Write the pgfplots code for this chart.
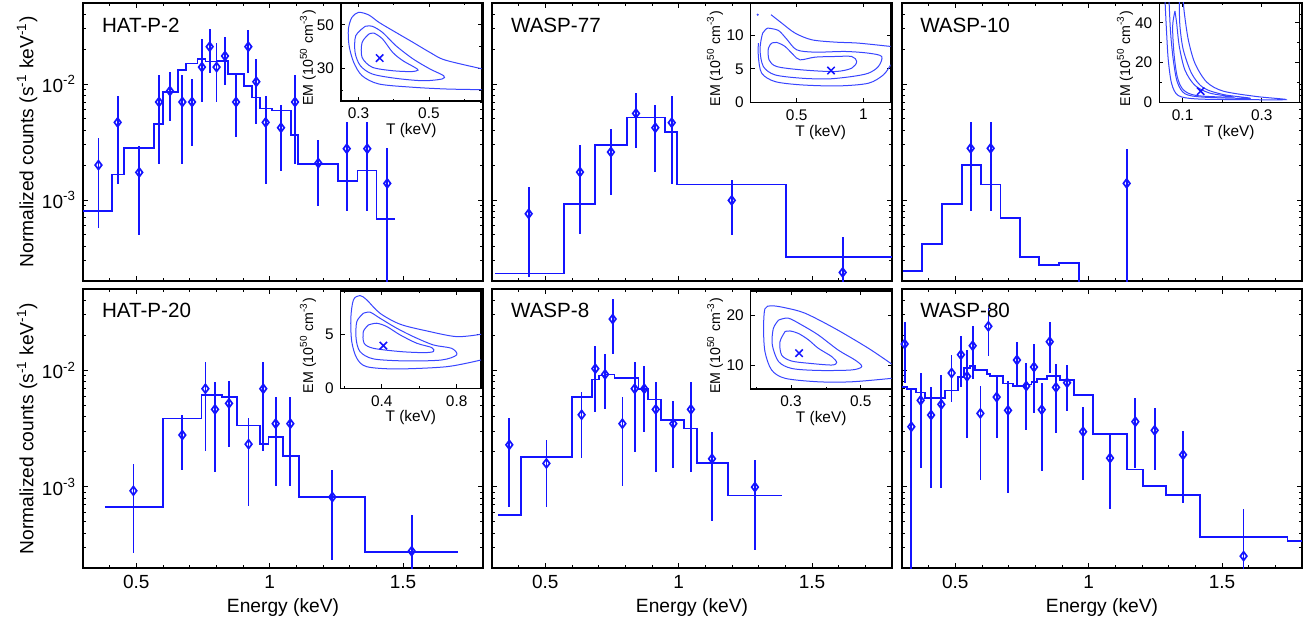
\documentclass[border=0pt]{standalone}
\usepackage{pgfplots}
\pgfplotsset{compat=1.18}
\usepackage{fontspec}
\setmainfont{Liberation Sans}
\definecolor{dblue}{rgb}{0.08,0.08,1}
\definecolor{cblue}{rgb}{0.22,0.27,1}
\begin{document}
\begin{tikzpicture}
\useasboundingbox (0,0) rectangle (657pt,314pt);
% ---------------- HAT-P-2
\begin{axis}[at={(41.5pt,173.5pt)}, anchor=south west,
    scale only axis, width=200pt, height=139pt,
    xmin=0.3, xmax=1.8, ymode=log, ymin=2e-4, ymax=5e-2,
    xtick={0.5,1,1.5}, xticklabels={},
    minor xtick={0.4,0.6,0.7,0.8,0.9,1.1,1.2,1.3,1.4,1.6,1.7},
    ytick={1e-3,1e-2}, yticklabels={10\textsuperscript{-3},10\textsuperscript{-2}},
    minor ytick={3e-4,4e-4,5e-4,6e-4,7e-4,8e-4,9e-4,2e-3,3e-3,4e-3,5e-3,6e-3,7e-3,8e-3,9e-3,2e-2,3e-2,4e-2},
    tick align=inside, major tick length=2.6pt, minor tick length=1.5pt,
    tick style={black, line width=0.45pt}, axis line style={line width=0.6pt},
    yticklabel style={font=\fontsize{9.5}{10}\selectfont},
    ylabel={Normalized counts (s\textsuperscript{-1} keV\textsuperscript{-1})},
    ylabel style={font=\fontsize{9.6}{10}\selectfont, at={(axis description cs:-0.14,0.5)}, anchor=center}]
\addplot[only marks, mark=diamond, mark size=2.2pt, color=dblue, line width=0.85pt,
  error bars/y dir=both, error bars/y explicit, error bars/error mark=none,
  error bars/error bar style={color=dblue, line width=0.85pt}]
  table[x=E,y=y,y error plus expr=\thisrow{hi}-\thisrow{y},y error minus expr=\thisrow{y}-\thisrow{lo}] {
E y hi lo
0.358 2.00e-3 3.40e-3 5.77e-4
0.430 4.67e-3 7.93e-3 1.363e-3
0.511 1.73e-3 2.94e-3 4.98e-4
0.585 7.00e-3 1.197e-2 2.04e-3
0.626 8.71e-3 1.28e-2 4.83e-3
0.6725 7.00e-3 1.19e-2 2.04e-3
0.709 7.00e-3 1.105e-2 2.94e-3
0.746 1.40e-2 2.44e-2 7.05e-3
0.775 2.10e-2 2.96e-2 1.25e-2
0.801 1.40e-2 2.24e-2 7.05e-3
0.8325 1.745e-2 2.53e-2 9.80e-3
0.874 7.00e-3 1.19e-2 3.52e-3
0.920 2.10e-2 2.92e-2 1.25e-2
0.950 1.047e-2 1.64e-2 4.49e-3
0.985 4.67e-3 7.90e-3 1.36e-3
1.0425 4.20e-3 6.59e-3 1.776e-3
1.095 7.00e-3 1.19e-2 2.04e-3
1.1825 2.08e-3 3.29e-3 8.86e-4
1.289 2.77e-3 4.73e-3 8.02e-4
1.366 2.77e-3 4.73e-3 8.02e-4
1.441 1.39e-3 2.79e-3 1.0e-4
};
\addplot[const plot, color=dblue, line width=0.85pt, no marks] coordinates {(0.3,8.07e-4) (0.4075,1.66e-3) (0.455,2.81e-3) (0.566,4.55e-3) (0.599,8.53e-3) (0.655,1.32e-2) (0.686,1.508e-2) (0.729,1.655e-2) (0.759,1.56e-2) (0.801,1.58e-2) (0.845,1.22e-2) (0.905,9.6e-3) (0.9325,7.67e-3) (0.964,6.17e-3) (1.0075,5.93e-3) (1.08,3.63e-3) (1.1075,2.04e-3) (1.2575,1.466e-3) (1.329,1.80e-3) (1.401,6.89e-4) (1.47,6.89e-4)};
\node[anchor=west, font=\fontsize{10.3}{11}\selectfont] at (rel axis cs:0.03,0.92) {HAT-P-2};
\end{axis}
% ---------------- WASP-77
\begin{axis}[at={(246pt,173.5pt)}, anchor=south west,
    scale only axis, width=200pt, height=139pt,
    xmin=0.3, xmax=1.8, ymode=log, ymin=2e-4, ymax=5e-2,
    xtick={0.5,1,1.5}, xticklabels={},
    minor xtick={0.4,0.6,0.7,0.8,0.9,1.1,1.2,1.3,1.4,1.6,1.7},
    ytick={1e-3,1e-2}, yticklabels={},
    minor ytick={3e-4,4e-4,5e-4,6e-4,7e-4,8e-4,9e-4,2e-3,3e-3,4e-3,5e-3,6e-3,7e-3,8e-3,9e-3,2e-2,3e-2,4e-2},
    tick align=inside, major tick length=2.6pt, minor tick length=1.5pt,
    tick style={black, line width=0.45pt}, axis line style={line width=0.6pt}]
\addplot[only marks, mark=diamond, mark size=2.2pt, color=dblue, line width=0.85pt,
  error bars/y dir=both, error bars/y explicit, error bars/error mark=none,
  error bars/error bar style={color=dblue, line width=0.85pt}]
  table[x=E,y=y,y error plus expr=\thisrow{hi}-\thisrow{y},y error minus expr=\thisrow{y}-\thisrow{lo}] {
E y hi lo
0.4375 7.60e-4 1.30e-3 2.18e-4
0.630 1.74e-3 2.96e-3 5.05e-4
0.746 2.59e-3 4.09e-3 1.10e-3
0.840 5.58e-3 8.31e-3 2.79e-3
0.9125 4.20e-3 6.59e-3 1.75e-3
0.974 4.64e-3 7.88e-3 1.36e-3
1.199 9.92e-4 1.486e-3 4.95e-4
1.615 2.37e-4 4.75e-4 1.0e-4
};
\addplot[const plot, color=dblue, line width=0.85pt, no marks] coordinates {(0.311,2.325e-4) (0.57,9.28e-4) (0.686,3.00e-3) (0.806,5.16e-3) (0.95,3.85e-3) (0.9925,1.363e-3) (1.4025,3.22e-4) (1.8,3.22e-4)};
\node[anchor=west, font=\fontsize{10.3}{11}\selectfont] at (rel axis cs:0.03,0.92) {WASP-77};
\end{axis}
% ---------------- WASP-10
\begin{axis}[at={(451pt,173.5pt)}, anchor=south west,
    scale only axis, width=200pt, height=139pt,
    xmin=0.3, xmax=1.8, ymode=log, ymin=2e-4, ymax=5e-2,
    xtick={0.5,1,1.5}, xticklabels={},
    minor xtick={0.4,0.6,0.7,0.8,0.9,1.1,1.2,1.3,1.4,1.6,1.7},
    ytick={1e-3,1e-2}, yticklabels={},
    minor ytick={3e-4,4e-4,5e-4,6e-4,7e-4,8e-4,9e-4,2e-3,3e-3,4e-3,5e-3,6e-3,7e-3,8e-3,9e-3,2e-2,3e-2,4e-2},
    tick align=inside, major tick length=2.6pt, minor tick length=1.5pt,
    tick style={black, line width=0.45pt}, axis line style={line width=0.6pt}]
\addplot[only marks, mark=diamond, mark size=2.2pt, color=dblue, line width=0.85pt,
  error bars/y dir=both, error bars/y explicit, error bars/error mark=none,
  error bars/error bar style={color=dblue, line width=0.85pt}]
  table[x=E,y=y,y error plus expr=\thisrow{hi}-\thisrow{y},y error minus expr=\thisrow{y}-\thisrow{lo}] {
E y hi lo
0.5575 2.79e-3 4.73e-3 8.07e-4
0.6325 2.79e-3 4.73e-3 8.07e-4
1.1425 1.39e-3 2.75e-3 1.0e-4
};
\addplot[const plot, color=dblue, line width=0.85pt, no marks] coordinates {(0.3025,2.44e-4) (0.376,4.19e-4) (0.45,9.22e-4) (0.524,2.01e-3) (0.595,1.36e-3) (0.669,6.98e-4) (0.7425,3.20e-4) (0.815,2.74e-4) (0.89,2.84e-4) (0.9625,1e-4)};
\node[anchor=west, font=\fontsize{10.3}{11}\selectfont] at (rel axis cs:0.028,0.92) {WASP-10};
\end{axis}
% ---------------- HAT-P-20
\begin{axis}[at={(41.5pt,30pt)}, anchor=south west,
    scale only axis, width=200pt, height=139.5pt,
    xmin=0.3, xmax=1.8, ymode=log, ymin=2e-4, ymax=5e-2,
    xtick={0.5,1,1.5}, xticklabels={0.5,1,1.5},
    minor xtick={0.4,0.6,0.7,0.8,0.9,1.1,1.2,1.3,1.4,1.6,1.7},
    ytick={1e-3,1e-2}, yticklabels={10\textsuperscript{-3},10\textsuperscript{-2}},
    minor ytick={3e-4,4e-4,5e-4,6e-4,7e-4,8e-4,9e-4,2e-3,3e-3,4e-3,5e-3,6e-3,7e-3,8e-3,9e-3,2e-2,3e-2,4e-2},
    tick align=inside, major tick length=2.6pt, minor tick length=1.5pt,
    tick style={black, line width=0.45pt}, axis line style={line width=0.6pt},
    ticklabel style={font=\fontsize{9.5}{10}\selectfont},
    ylabel={Normalized counts (s\textsuperscript{-1} keV\textsuperscript{-1})},
    ylabel style={font=\fontsize{9.6}{10}\selectfont, at={(axis description cs:-0.14,0.5)}, anchor=center},
    xlabel={Energy (keV)},
    xlabel style={font=\fontsize{9.6}{10}\selectfont, at={(axis description cs:0.5,-0.143)}, anchor=center}]
\addplot[only marks, mark=diamond, mark size=2.2pt, color=dblue, line width=0.85pt,
  error bars/y dir=both, error bars/y explicit, error bars/error mark=none,
  error bars/error bar style={color=dblue, line width=0.85pt}]
  table[x=E,y=y,y error plus expr=\thisrow{hi}-\thisrow{y},y error minus expr=\thisrow{y}-\thisrow{lo}] {
E y hi lo
0.489 9.22e-4 1.564e-3 2.67e-4
0.6725 2.78e-3 4.13e-3 1.39e-3
0.759 6.95e-3 1.178e-2 2.04e-3
0.795 4.62e-3 7.88e-3 1.344e-3
0.8475 5.20e-3 8.15e-3 2.19e-3
0.921 2.32e-3 3.91e-3 6.81e-4
0.976 6.95e-3 1.178e-2 2.04e-3
1.0225 3.48e-3 5.89e-3 1.019e-3
1.0775 3.48e-3 5.89e-3 1.019e-3
1.235 8.14e-4 1.39e-3 2.35e-4
1.5325 2.79e-4 5.70e-4 1.0e-4
};
\addplot[const plot, color=dblue, line width=0.85pt, no marks] coordinates {(0.3825,6.72e-4) (0.599,3.86e-3) (0.744,6.13e-3) (0.82,5.93e-3) (0.8775,3.36e-3) (0.964,2.32e-3) (0.996,2.69e-3) (1.051,1.83e-3) (1.109,8.19e-4) (1.3575,2.76e-4) (1.7075,2.76e-4)};
\node[anchor=west, font=\fontsize{10.3}{11}\selectfont] at (rel axis cs:0.03,0.925) {HAT-P-20};
\end{axis}
% ---------------- WASP-8
\begin{axis}[at={(246pt,30pt)}, anchor=south west,
    scale only axis, width=200pt, height=139.5pt,
    xmin=0.3, xmax=1.8, ymode=log, ymin=2e-4, ymax=5e-2,
    xtick={0.5,1,1.5}, xticklabels={0.5,1,1.5},
    minor xtick={0.4,0.6,0.7,0.8,0.9,1.1,1.2,1.3,1.4,1.6,1.7},
    ytick={1e-3,1e-2}, yticklabels={},
    minor ytick={3e-4,4e-4,5e-4,6e-4,7e-4,8e-4,9e-4,2e-3,3e-3,4e-3,5e-3,6e-3,7e-3,8e-3,9e-3,2e-2,3e-2,4e-2},
    tick align=inside, major tick length=2.6pt, minor tick length=1.5pt,
    tick style={black, line width=0.45pt}, axis line style={line width=0.6pt},
    ticklabel style={font=\fontsize{9.5}{10}\selectfont},
    xlabel={Energy (keV)},
    xlabel style={font=\fontsize{9.6}{10}\selectfont, at={(axis description cs:0.5,-0.143)}, anchor=center}]
\addplot[only marks, mark=diamond, mark size=2.2pt, color=dblue, line width=0.85pt,
  error bars/y dir=both, error bars/y explicit, error bars/error mark=none,
  error bars/error bar style={color=dblue, line width=0.85pt}]
  table[x=E,y=y,y error plus expr=\thisrow{hi}-\thisrow{y},y error minus expr=\thisrow{y}-\thisrow{lo}] {
E y hi lo
0.365 2.29e-3 3.91e-3 6.64e-4
0.504 1.585e-3 2.52e-3 6.72e-4
0.636 4.15e-3 6.55e-3 1.75e-3
0.6875 1.033e-2 1.628e-2 4.41e-3
0.724 9.23e-3 1.38e-2 4.62e-3
0.7525 2.76e-2 4.10e-2 1.38e-2
0.789 3.48e-3 5.89e-3 1.01e-3
0.835 6.95e-3 1.17e-2 2.00e-3
0.871 6.95e-3 1.081e-2 2.93e-3
0.914 4.62e-3 7.88e-3 1.344e-3
0.980 3.48e-3 5.45e-3 1.455e-3
1.046 4.62e-3 7.88e-3 1.344e-3
1.125 1.738e-3 2.97e-3 5.09e-4
1.286 9.92e-4 1.69e-3 2.85e-4
};
\addplot[const plot, color=dblue, line width=0.85pt, no marks] coordinates {(0.324,5.70e-4) (0.409,1.81e-3) (0.6,5.89e-3) (0.674,8.36e-3) (0.7025,9.05e-3) (0.724,9.23e-3) (0.759,8.59e-3) (0.849,6.95e-3) (0.886,5.63e-3) (0.934,3.74e-3) (1.021,3.17e-3) (1.069,1.606e-3) (1.184,8.41e-4) (1.386,8.41e-4)};
\node[anchor=west, font=\fontsize{10.3}{11}\selectfont] at (rel axis cs:0.03,0.925) {WASP-8};
\end{axis}
% ---------------- WASP-80
\begin{axis}[at={(451pt,30pt)}, anchor=south west,
    scale only axis, width=200pt, height=139.5pt,
    xmin=0.3, xmax=1.8, ymode=log, ymin=2e-4, ymax=5e-2,
    xtick={0.5,1,1.5}, xticklabels={0.5,1,1.5},
    minor xtick={0.4,0.6,0.7,0.8,0.9,1.1,1.2,1.3,1.4,1.6,1.7},
    ytick={1e-3,1e-2}, yticklabels={},
    minor ytick={3e-4,4e-4,5e-4,6e-4,7e-4,8e-4,9e-4,2e-3,3e-3,4e-3,5e-3,6e-3,7e-3,8e-3,9e-3,2e-2,3e-2,4e-2},
    tick align=inside, major tick length=2.6pt, minor tick length=1.5pt,
    tick style={black, line width=0.45pt}, axis line style={line width=0.6pt},
    ticklabel style={font=\fontsize{9.5}{10}\selectfont},
    xlabel={Energy (keV)},
    xlabel style={font=\fontsize{9.6}{10}\selectfont, at={(axis description cs:0.5,-0.143)}, anchor=center}]
\addplot[only marks, mark=diamond, mark size=2.2pt, color=dblue, line width=0.85pt,
  error bars/y dir=both, error bars/y explicit, error bars/error mark=none,
  error bars/error bar style={color=dblue, line width=0.85pt}]
  table[x=E,y=y,y error plus expr=\thisrow{hi}-\thisrow{y},y error minus expr=\thisrow{y}-\thisrow{lo}] {
E y hi lo
0.31 1.683e-2 2.585e-2 7.73e-3
0.335 3.275e-3 6.77e-3 1.0e-4
0.37 5.52e-3 9.42e-3 1.455e-3
0.409 4.13e-3 7.23e-3 9.66e-4
0.4475 5.10e-3 9.11e-3 9.79e-4
0.486 9.48e-3 1.353e-2 5.37e-3
0.521 1.362e-2 1.985e-2 7.23e-3
0.544 8.87e-3 1.495e-2 2.63e-3
0.565 1.628e-2 2.42e-2 8.42e-3
0.594 4.265e-3 7.38e-3 1.14e-3
0.624 2.39e-2 3.41e-2 1.336e-2
0.655 5.89e-3 9.11e-3 2.63e-3
0.6975 4.53e-3 8.15e-3 8.75e-4
0.731 1.226e-2 1.739e-2 7.47e-3
0.766 7.33e-3 1.148e-2 3.09e-3
0.795 1.067e-2 1.694e-2 4.29e-3
0.824 4.59e-3 7.78e-3 1.371e-3
0.854 1.762e-2 2.585e-2 9.42e-3
0.8775 7.14e-3 1.133e-2 2.87e-3
0.919 7.83e-3 1.11e-2 4.50e-3
0.979 2.97e-3 4.80e-3 1.132e-3
1.08 1.762e-3 2.87e-3 6.42e-4
1.175 3.62e-3 5.74e-3 1.455e-3
1.2475 3.05e-3 4.71e-3 1.398e-3
1.354 1.88e-3 3.01e-3 7.27e-4
1.581 2.53e-4 6.42e-4 1.0e-4
};
\addplot[const plot, color=dblue, line width=0.85pt, no marks] coordinates {(0.3,7.23e-3) (0.3175,6.95e-3) (0.3525,6.46e-3) (0.386,5.82e-3) (0.461,6.72e-3) (0.511,8.76e-3) (0.5325,1.053e-2) (0.555,1.096e-2) (0.575,1.006e-2) (0.6175,9.35e-3) (0.63,8.99e-3) (0.68,7.73e-3) (0.715,7.38e-3) (0.761,7.57e-3) (0.786,7.98e-3) (0.805,8.42e-3) (0.8425,8.93e-3) (0.8925,8.31e-3) (0.945,6.13e-3) (1.015,2.85e-3) (1.145,1.407e-3) (1.2025,1.019e-3) (1.29,8.52e-4) (1.4175,3.69e-4) (1.746,3.40e-4) (1.8,3.40e-4)};
\node[anchor=west, font=\fontsize{10.3}{11}\selectfont] at (rel axis cs:0.028,0.925) {WASP-80};
\end{axis}
% ================= insets
\begin{axis}[at={(170.5pt,263.5pt)}, anchor=south west, scale only axis, width=70.35pt, height=49pt,
  axis background/.style={fill=white}, tick align=inside, major tick length=2pt, minor tick length=1.2pt,
  tick style={black, line width=0.4pt}, axis line style={line width=0.55pt},
  ticklabel style={font=\fontsize{7.7}{8}\selectfont},
  xlabel={T (keV)}, ylabel={EM (10\textsuperscript{50} cm\textsuperscript{-3})},
  xlabel style={font=\fontsize{7.7}{8}\selectfont, at={(axis description cs:0.5,-0.3)}, anchor=center},
  ylabel style={font=\fontsize{7.1}{8}\selectfont, at={(axis description cs:-0.235,0.44)}, anchor=center},
  xmin=0.25, xmax=0.65, ymin=15, ymax=60, xtick={0.3,0.5}, xticklabels={0.3,0.5}, minor xtick={0.4,0.6},
  ytick={30,50}, yticklabels={30,50}, minor ytick={20,40}]
\addplot[color=cblue, line width=0.5pt, smooth, no marks] coordinates {(0.653,29.7) (0.546,33.8) (0.503,37.3) (0.455,41.9) (0.406,46.5) (0.358,51.1) (0.329,54.5) (0.3,55.7) (0.281,53.4) (0.271,48.0) (0.273,40.4) (0.286,32.8) (0.310,26.6) (0.358,22.8) (0.455,21.3) (0.551,20.5) (0.653,20.2)};
\addplot[color=cblue, line width=0.5pt, smooth, no marks] coordinates {(0.319,49.3) (0.292,45.0) (0.290,37.3) (0.305,31.2) (0.339,27.4) (0.406,25.4) (0.484,24.3) (0.537,25.1) (0.542,26.6) (0.503,29.7) (0.455,34.3) (0.406,40.4) (0.368,46.5) (0.339,49.3) (0.319,49.3)};
\addplot[color=cblue, line width=0.5pt, smooth, no marks] coordinates {(0.329,45.7) (0.310,41.9) (0.310,35.0) (0.339,30.5) (0.397,28.9) (0.450,28.5) (0.469,29.2) (0.459,30.5) (0.426,33.5) (0.397,37.3) (0.368,43.5) (0.343,46.2) (0.329,45.7)};
\addplot[only marks, mark=x, mark size=2.6pt, color=dblue, line width=0.75pt] coordinates {(0.36,34.7)};
\end{axis}
\begin{axis}[at={(375.35pt,262.85pt)}, anchor=south west, scale only axis, width=70pt, height=49.65pt,
  axis background/.style={fill=white}, tick align=inside, major tick length=2pt, minor tick length=1.2pt,
  tick style={black, line width=0.4pt}, axis line style={line width=0.55pt},
  ticklabel style={font=\fontsize{7.7}{8}\selectfont},
  xlabel={T (keV)}, ylabel={EM (10\textsuperscript{50} cm\textsuperscript{-3})},
  xlabel style={font=\fontsize{7.7}{8}\selectfont, at={(axis description cs:0.5,-0.3)}, anchor=center},
  ylabel style={font=\fontsize{7.1}{8}\selectfont, at={(axis description cs:-0.255,0.44)}, anchor=center},
  xmin=0.155, xmax=1.205, ymin=0, ymax=14.85, xtick={0.5,1}, xticklabels={0.5,1},
  ytick={0,5,10}, yticklabels={0,5,10}]
\addplot[color=cblue, line width=0.5pt, smooth, no marks] coordinates {(0.2125,8.85) (0.2125,6.85) (0.2375,4.35) (0.3375,3.1) (0.5375,2.6) (0.8125,2.45) (1.0375,2.85) (1.15,4.1) (1.205,5.6)};
\addplot[color=cblue, line width=0.5pt, smooth, no marks] coordinates {(0.3075,13.1) (0.3875,11.85) (0.4875,10.35) (0.6125,9.35) (0.7875,9.0) (0.9625,8.85) (1.205,8.35)};
\addplot[color=cblue, line width=0.5pt, smooth, no marks] coordinates {(0.2825,11.1) (0.3625,10.75) (0.425,9.45) (0.5,7.85) (0.6375,7.5) (0.8625,7.6) (1.0375,7.35) (1.1375,6.85) (1.1125,5.35) (1.0375,4.35) (0.9125,3.85) (0.7375,3.5) (0.5375,3.6) (0.3375,4.1) (0.25,5.35) (0.225,7.85) (0.245,10.35) (0.2825,11.1)};
\addplot[color=cblue, line width=0.5pt, smooth, no marks] coordinates {(0.3125,8.85) (0.2875,8.1) (0.2925,6.35) (0.35,5.35) (0.5375,4.85) (0.7875,4.6) (0.9125,5.1) (0.95,6.1) (0.9125,6.85) (0.7875,6.85) (0.6375,6.75) (0.525,6.35) (0.475,7.1) (0.4125,8.35) (0.35,8.95) (0.3125,8.85)};
\addplot[only marks, mark=*, mark size=0.3pt, color=cblue] coordinates {(0.2075,13.1)};
\addplot[only marks, mark=x, mark size=2.6pt, color=dblue, line width=0.75pt] coordinates {(0.7575,4.75)};
\end{axis}
\begin{axis}[at={(579.65pt,262.85pt)}, anchor=south west, scale only axis, width=70pt, height=49.65pt,
  axis background/.style={fill=white}, tick align=inside, major tick length=2pt, minor tick length=1.2pt,
  tick style={black, line width=0.4pt}, axis line style={line width=0.55pt},
  ticklabel style={font=\fontsize{7.7}{8}\selectfont},
  xlabel={T (keV)}, ylabel={EM (10\textsuperscript{50} cm\textsuperscript{-3})},
  xlabel style={font=\fontsize{7.7}{8}\selectfont, at={(axis description cs:0.5,-0.3)}, anchor=center},
  ylabel style={font=\fontsize{7.1}{8}\selectfont, at={(axis description cs:-0.245,0.44)}, anchor=center},
  xmin=0.041, xmax=0.395, ymin=0, ymax=50, xtick={0.1,0.3}, xticklabels={0.1,0.3}, minor xtick={0.2},
  ytick={0,20,40}, yticklabels={0,20,40}, minor ytick={10,30}]
\addplot[color=cblue, line width=0.5pt, smooth, no marks] coordinates {(0.0561,50.5) (0.0561,48.5) (0.0595,34.9) (0.0637,21.3) (0.0722,9.4) (0.089,3.4) (0.1354,1.7) (0.245,1.36) (0.3616,1.36) (0.2873,2.9) (0.203,5.6) (0.1608,10.2) (0.1312,19.6) (0.1143,31.5) (0.1042,45.1) (0.1017,51)};
\addplot[color=cblue, line width=0.5pt, smooth, no marks] coordinates {(0.0662,51) (0.0662,48.5) (0.0696,34.9) (0.0764,21.3) (0.0865,10.2) (0.1059,4.3) (0.1523,2.6) (0.2705,2.0) (0.203,3.9) (0.1523,7.3) (0.1228,14.5) (0.1017,26.4) (0.0932,38.3) (0.0916,49.4) (0.0916,51)};
\addplot[color=cblue, line width=0.5pt, smooth, no marks] coordinates {(0.0806,46.0) (0.0747,38.3) (0.0781,24.7) (0.0865,12.8) (0.1017,6.3) (0.1354,3.4) (0.2283,2.6) (0.1692,4.6) (0.1312,8.5) (0.1059,16.2) (0.0916,28.1) (0.0848,40.0) (0.0806,46.0)};
\addplot[only marks, mark=x, mark size=2.6pt, color=dblue, line width=0.75pt] coordinates {(0.1456,5.6)};
\end{axis}
\begin{axis}[at={(170.35pt,119.85pt)}, anchor=south west, scale only axis, width=70.15pt, height=48.65pt,
  axis background/.style={fill=white}, tick align=inside, major tick length=2pt, minor tick length=1.2pt,
  tick style={black, line width=0.4pt}, axis line style={line width=0.55pt},
  ticklabel style={font=\fontsize{7.7}{8}\selectfont},
  xlabel={T (keV)}, ylabel={EM (10\textsuperscript{50} cm\textsuperscript{-3})},
  xlabel style={font=\fontsize{7.7}{8}\selectfont, at={(axis description cs:0.5,-0.3)}, anchor=center},
  ylabel style={font=\fontsize{7.1}{8}\selectfont, at={(axis description cs:-0.233,0.44)}, anchor=center},
  xmin=0.181, xmax=0.93, ymin=0, ymax=9, xtick={0.4,0.8}, xticklabels={0.4,0.8}, minor xtick={0.2,0.6},
  ytick={0,5}, yticklabels={0,5}]
\addplot[color=cblue, line width=0.5pt, smooth, no marks] coordinates {(0.93,5.0) (0.8,4.78) (0.64,5.31) (0.498,5.93) (0.391,6.94) (0.32,8.18) (0.284,8.58) (0.249,8.18) (0.235,6.48) (0.24,4.32) (0.267,2.78) (0.32,2.0) (0.48,1.79) (0.747,2.0) (0.93,2.62)};
\addplot[color=cblue, line width=0.5pt, smooth, no marks] coordinates {(0.302,6.94) (0.267,6.17) (0.263,4.63) (0.284,3.4) (0.356,2.72) (0.533,2.53) (0.72,2.62) (0.8,3.09) (0.773,3.7) (0.676,4.01) (0.569,4.78) (0.48,5.56) (0.391,6.48) (0.338,7.04) (0.302,6.94)};
\addplot[color=cblue, line width=0.5pt, smooth, no marks] coordinates {(0.329,5.86) (0.302,5.25) (0.306,4.17) (0.356,3.7) (0.498,3.4) (0.622,3.3) (0.676,3.4) (0.667,3.77) (0.587,4.17) (0.498,4.94) (0.427,5.71) (0.373,6.02) (0.329,5.86)};
\addplot[only marks, mark=x, mark size=2.6pt, color=dblue, line width=0.75pt] coordinates {(0.409,3.95)};
\end{axis}
\begin{axis}[at={(375.35pt,119.5pt)}, anchor=south west, scale only axis, width=70.5pt, height=49pt,
  axis background/.style={fill=white}, tick align=inside, major tick length=2pt, minor tick length=1.2pt,
  tick style={black, line width=0.4pt}, axis line style={line width=0.55pt},
  ticklabel style={font=\fontsize{7.7}{8}\selectfont},
  xlabel={T (keV)}, ylabel={EM (10\textsuperscript{50} cm\textsuperscript{-3})},
  xlabel style={font=\fontsize{7.7}{8}\selectfont, at={(axis description cs:0.5,-0.3)}, anchor=center},
  ylabel style={font=\fontsize{7.1}{8}\selectfont, at={(axis description cs:-0.253,0.44)}, anchor=center},
  xmin=0.184, xmax=0.589, ymin=5.14, ymax=25, xtick={0.3,0.5}, xticklabels={0.3,0.5}, minor xtick={0.2,0.4},
  ytick={10,20}, yticklabels={10,20}]
\addplot[color=cblue, line width=0.5pt, smooth, no marks] coordinates {(0.589,10.2) (0.522,13.4) (0.426,17.4) (0.34,20.5) (0.283,21.6) (0.244,22.0) (0.225,21.4) (0.221,17.4) (0.225,12.7) (0.244,9.0) (0.283,7.3) (0.378,6.6) (0.474,6.6) (0.589,7.3)};
\addplot[color=cblue, line width=0.5pt, smooth, no marks] coordinates {(0.264,19.1) (0.249,17.4) (0.246,14.1) (0.264,10.7) (0.302,9.3) (0.378,8.9) (0.474,9.0) (0.503,9.7) (0.484,11.0) (0.436,13.0) (0.378,16.1) (0.331,18.1) (0.292,19.5) (0.264,19.1)};
\addplot[color=cblue, line width=0.5pt, smooth, no marks] coordinates {(0.283,16.8) (0.268,14.7) (0.273,12.0) (0.302,10.8) (0.359,10.3) (0.417,10.0) (0.431,10.5) (0.417,11.7) (0.378,13.4) (0.35,15.1) (0.321,16.4) (0.297,16.9) (0.283,16.8)};
\addplot[only marks, mark=x, mark size=2.6pt, color=dblue, line width=0.75pt] coordinates {(0.323,12.4)};
\end{axis}
\end{tikzpicture}
\end{document}
